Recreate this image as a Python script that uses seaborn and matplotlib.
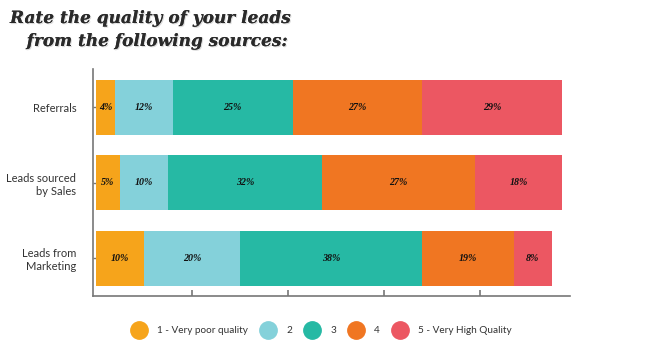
import numpy as np
import pandas as pd
import matplotlib
matplotlib.use("Agg")
import matplotlib.pyplot as plt
import matplotlib.patheffects as pe
from matplotlib.lines import Line2D
import seaborn as sns

categories = ["Referrals", "Leads sourced\nby Sales", "Leads from\nMarketing"]
levels = ["1 - Very poor quality", "2", "3", "4", "5 - Very High Quality"]
# drawn segment widths (percent)
seg1 = [4, 5, 10]
seg2 = [12, 10, 20]
seg3 = [25, 32, 38]
seg4 = [27, 32, 19]
seg5 = [29, 18, 8]
# printed labels
lab1 = ["4%", "5%", "10%"]
lab2 = ["12%", "10%", "20%"]
lab3 = ["25%", "32%", "38%"]
lab4 = ["27%", "27%", "19%"]
lab5 = ["29%", "18%", "8%"]
colors = ["#F6A41B", "#84D1DA", "#26B9A4", "#F07622", "#EC5762"]

segs = [seg1, seg2, seg3, seg4, seg5]
labs = [lab1, lab2, lab3, lab4, lab5]

sns.set_theme(style="white")
fig = plt.figure(figsize=(6.66, 3.48), dpi=100)
ax = fig.add_axes([0.1396, 0.1494, 0.856 - 0.1396, 0.8017 - 0.1494])

cum = np.cumsum(np.array(segs), axis=0)
for i in range(len(levels) - 1, -1, -1):
    df = pd.DataFrame({"cat": categories, "val": cum[i]})
    sns.barplot(data=df, y="cat", x="val", orient="h", color=colors[i],
                saturation=1, width=0.73, ax=ax, linewidth=0)

for i in range(len(levels)):
    for j in range(len(categories)):
        start = cum[i][j] - segs[i][j]
        ax.text(start + segs[i][j] / 2, j, labs[i][j], ha="center", va="center",
                fontsize=7.2, fontstyle="italic", fontweight="bold",
                family="Liberation Serif", color="#111111")

ax.set_xlim(-0.625, 98.75)
ax.set_ylim(2.5, -0.51)
ax.set_xticks([20, 40, 60, 80])
ax.set_xticklabels([])
ax.set_xlabel("")
ax.set_ylabel("")
ax.tick_params(axis="x", direction="in", length=4, width=1.2, color="#777777", bottom=True)
ax.tick_params(axis="y", direction="in", length=2, width=1, color="#777777", left=True, pad=12)
for lbl in ax.get_yticklabels():
    lbl.set_family("Lato")
    lbl.set_fontsize(8)
    lbl.set_color("#333333")
    lbl.set_ha("right")
for s in ["top", "right"]:
    ax.spines[s].set_visible(False)
for s in ["left", "bottom"]:
    ax.spines[s].set_color("#777777")
    ax.spines[s].set_linewidth(1.2)

title_fx = [pe.withSimplePatchShadow(offset=(0.8, -0.8), shadow_rgbFace="#999999", alpha=0.35), pe.Normal()]
fig.text(0.015, 1 - 23 / 348, "Rate the quality of your leads", fontsize=12.2, family="DejaVu Serif",
         fontstyle="italic", fontweight="bold", color="#2a2a2a", path_effects=title_fx, va="baseline")
fig.text(0.04, 1 - 46 / 348, "from the following sources:", fontsize=12.2, family="DejaVu Serif",
         fontstyle="italic", fontweight="bold", color="#2a2a2a", path_effects=title_fx, va="baseline")

handles = [Line2D([0], [0], marker="o", linestyle="", markersize=12.5,
                  markerfacecolor=c, markeredgecolor=c) for c in colors]
leg = fig.legend(handles, levels, loc="center", bbox_to_anchor=(0.481, 0.05), ncol=5,
                 frameon=False, handletextpad=0.8, columnspacing=1.0,
                 prop={"family": "Lato", "size": 7.2})
for t in leg.get_texts():
    t.set_color("#333333")

fig.savefig("out.png", dpi=100)
